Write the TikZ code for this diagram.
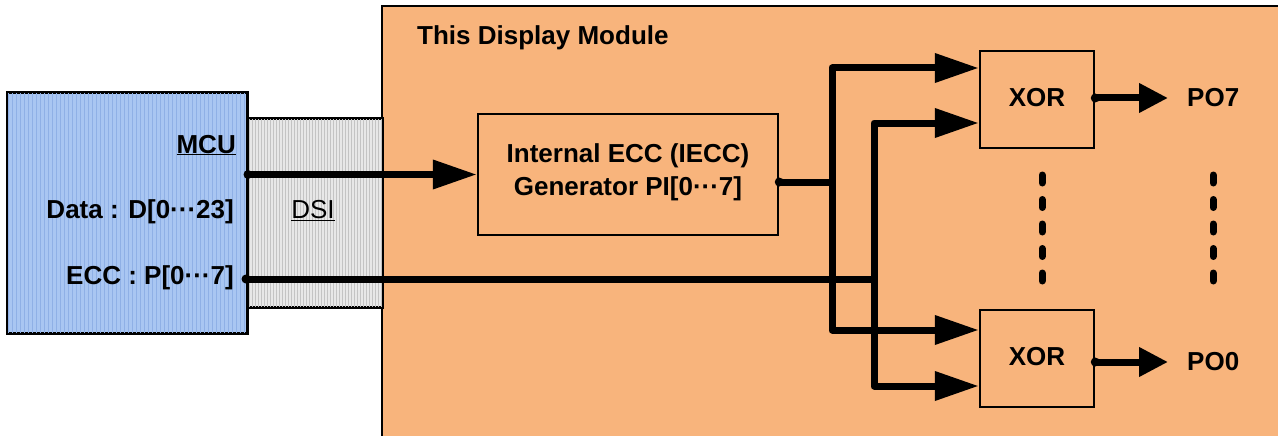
\documentclass[tikz,border=0pt]{standalone}
\usepackage{fontspec}
\setmainfont{Liberation Sans}
\usetikzlibrary{arrows.meta,calc}
\definecolor{orangefill}{HTML}{F8B47C}
\definecolor{bluefill}{HTML}{A9C6F2}
\definecolor{bluegrid}{HTML}{8FB0E6}
\definecolor{grayfill}{HTML}{E8E8E8}
\definecolor{graygrid}{HTML}{C4C4C4}
\begin{document}
\begin{tikzpicture}[x=1pt,y=-1pt,
  box/.style={draw=black, line width=2.5pt, fill=orangefill, inner sep=0pt},
  lbl/.style={font=\fontsize{26}{33}\selectfont\bfseries, inner sep=0pt},
  plainlbl/.style={font=\fontsize{26}{33}\selectfont, inner sep=0pt},
  bus/.style={line width=7pt, line join=round},
  inhead/.style={-{Triangle[length=44pt,width=28pt]}},
  outhead/.style={-{Triangle[length=29pt,width=28pt]}},
  dotline/.style={line width=7pt, line cap=round, dash pattern=on 8pt off 16.5pt},
  jdot/.style={fill=black}
]
\useasboundingbox (0,0) rectangle (1278,436);
% display module
\node[draw=black, line width=2pt, fill=orangefill, anchor=north west,
      minimum width=920, minimum height=450, inner sep=0pt] (module) at (381,5) {};
\node[lbl, anchor=base west] (title) at (417,45) {This Display Module};
% DSI
\node[draw=black, line width=2pt, fill=grayfill, anchor=north west,
      minimum width=135, minimum height=188, inner sep=0pt] (dsi) at (246,118) {};
\begin{scope}
  \clip (dsi.south west) rectangle (dsi.north east);
  \draw[graygrid, line width=1pt, step=3] (dsi.south west) grid (dsi.north east);
\end{scope}
\draw[black, line width=2pt] (dsi.south west) rectangle (dsi.north east);
\node[plainlbl] (dsilbl) at (313,211) {\underline{DSI}};
% MCU
\node[draw=black, line width=2pt, fill=bluefill, anchor=north west,
      minimum width=239, minimum height=240, inner sep=0pt] (mcu) at (7,92) {};
\begin{scope}
  \clip (mcu.south west) rectangle (mcu.north east);
  \draw[bluegrid, line width=1pt, step=4] (mcu.south west) grid (mcu.north east);
\end{scope}
\draw[black, line width=2pt] (mcu.south west) rectangle (mcu.north east);
\node[lbl, anchor=base east] (mculbl) at (236,153) {\underline{MCU}};
\node[lbl, anchor=base east] (datalbl) at (234,218) {Data : D[0···23]};
\node[lbl, anchor=base east] (ecclbl) at (234,284) {ECC : P[0···7]};
% IECC
\node[box, minimum width=300, minimum height=121] (iecc) at (628,174.5) {};
\node[lbl, align=center] (iecctxt) at (628,172) {Internal ECC (IECC)\\Generator PI[0···7]};
% XOR boxes
\node[box, minimum width=114, minimum height=97] (xor1) at (1037,99.5) {};
\node[lbl] (xor1txt) at (1037,98) {XOR};
\node[box, minimum width=114, minimum height=97] (xor2) at (1037,358.5) {};
\node[lbl] (xor2txt) at (1037,357) {XOR};
\node[lbl, anchor=west] (po7) at (1187,98) {PO7};
\node[lbl, anchor=west] (po0) at (1187,362) {PO0};
% rows
\coordinate (r1) at (0,68);
\coordinate (r2) at (0,123);
\coordinate (r3) at (0,330);
\coordinate (r4) at (0,386);
\coordinate (ro1) at (0,98);
\coordinate (ro2) at (0,362);
\coordinate (d0) at (mcu.east |- iecc.west);
\coordinate (e0) at (246,279);
\coordinate (va) at (832,0);
\coordinate (vb) at (874,0);
\coordinate (g0) at ($(iecc.east)+(0,7.5)$);
% data line
\draw[bus, inhead] (d0) -- (iecc.west);
\fill[jdot] (d0) circle (4.5);
% ecc line
\draw[bus] (e0) -- (vb |- e0);
\fill[jdot] (e0) circle (4.5);
% IECC output
\draw[bus] (g0) -- (va |- g0);
\fill[jdot] (g0) circle (4.5);
% PI vertical
\draw[bus, {Triangle[length=44pt,width=28pt]}-{Triangle[length=44pt,width=28pt]}]
  (xor1.west |- r1) -- (va |- r1) -- (va |- r3) -- (xor2.west |- r3);
% P vertical
\draw[bus, {Triangle[length=44pt,width=28pt]}-{Triangle[length=44pt,width=28pt]}]
  (xor1.west |- r2) -- (vb |- r2) -- (vb |- r4) -- (xor2.west |- r4);
% outputs
\draw[bus, outhead] (xor1.east |- ro1) -- ($(po7.west |- ro1)+(-19,0)$);
\fill[jdot] (xor1.east |- ro1) circle (4.5);
\draw[bus, outhead] (xor2.east |- ro2) -- ($(po0.west |- ro2)+(-19,0)$);
\fill[jdot] (xor2.east |- ro2) circle (4.5);
% ellipsis dots
\draw[dotline] (1042,175) -- (1042,281);
\draw[dotline] (1213,175) -- (1213,281);
\end{tikzpicture}
\end{document}
